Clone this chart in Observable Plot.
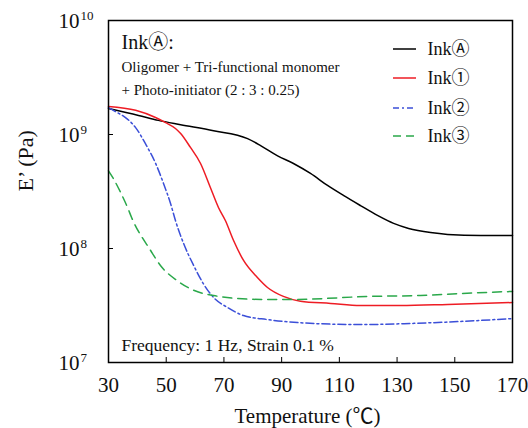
<!DOCTYPE html>
<html>
<head>
<meta charset="utf-8">
<script src="https://cdn.jsdelivr.net/npm/d3@7"></script>
<script src="https://cdn.jsdelivr.net/npm/@observablehq/plot@0.6"></script>
<style>
  html, body { margin: 0; padding: 0; background: #fff; }
  #chart svg { font-family: "Liberation Serif", "Noto Sans CJK JP", serif; }
</style>
</head>
<body>
<div id="chart"></div>
<script>
// ---- data ----
const seriesNames = ["InkⒶ", "Ink①", "Ink②", "Ink③"];
const seriesColors = ["#000000", "#ee1c24", "#3b4fd8", "#2aa84a"];
const seriesDash = [null, null, "8,3,2,3", "9,6"];

const inkA_T = [30, 40.4, 47.3, 55, 66.4, 78.2, 82.7, 88.6, 94.1, 100, 105.9, 111.4, 117.3, 123.2, 128.8, 134, 141.6, 147.5, 159, 170];
const inkA_E = [1.69e9, 1.47e9, 1.33e9, 1.22e9, 1.08e9, 9.2e8, 8.0e8, 6.5e8, 5.57e8, 4.55e8, 3.57e8, 2.92e8, 2.38e8, 1.95e8, 1.66e8, 1.5e8, 1.38e8, 1.33e8, 1.30e8, 1.30e8];

const ink1_T = [30, 39.4, 46.3, 49.8, 53.2, 55, 58.4, 61.9, 65.3, 68.1, 70.5, 73.3, 76.8, 81.6, 85.1, 90.6, 96.5, 107, 117.3, 131.2, 147.5, 170];
const ink1_E = [1.76e9, 1.63e9, 1.41e9, 1.27e9, 1.13e9, 1.02e9, 7.7e8, 5.57e8, 3.43e8, 2.29e8, 1.76e8, 1.18e8, 7.85e7, 5.57e7, 4.55e7, 3.8e7, 3.45e7, 3.3e7, 3.16e7, 3.16e7, 3.23e7, 3.36e7];

const ink2_T = [30, 32.4, 36, 39.4, 42.8, 46.3, 49.1, 51.5, 53.2, 56, 59.5, 62.9, 66.4, 71.2, 76.8, 85.1, 95.5, 117.3, 134.7, 152, 170];
const ink2_E = [1.72e9, 1.59e9, 1.4e9, 1.15e9, 8.3e8, 5.6e8, 3.7e8, 2.48e8, 1.76e8, 1.11e8, 7.1e7, 4.9e7, 3.72e7, 3.04e7, 2.58e7, 2.38e7, 2.24e7, 2.15e7, 2.2e7, 2.29e7, 2.43e7];

const ink3_T = [30, 31.7, 34.2, 36.6, 38, 44.6, 48, 53.9, 59.5, 66.4, 74.7, 83.7, 93.1, 120.8, 138.1, 152, 170];
const ink3_E = [4.8e8, 4.1e8, 3.1e8, 2.29e8, 1.87e8, 9.6e7, 7.1e7, 5.2e7, 4.3e7, 3.87e7, 3.64e7, 3.57e7, 3.57e7, 3.8e7, 3.87e7, 4.03e7, 4.2e7];

const xTicks = [30, 50, 70, 90, 110, 130, 150, 170];
const yTicks = [1e7, 1e8, 1e9, 1e10];
const yExponents = ["7", "8", "9", "10"];

const xLabel = "Temperature (℃)";
const yLabel = "E’ (Pa)";
const noteTitle = "InkⒶ:";
const noteLine1 = "Oligomer + Tri-functional monomer";
const noteLine2 = "+ Photo-initiator (2 : 3 : 0.25)";
const noteBottom = "Frequency: 1 Hz, Strain 0.1 %";

// build tables
const allT = [inkA_T, ink1_T, ink2_T, ink3_T];
const allE = [inkA_E, ink1_E, ink2_E, ink3_E];
const tables = allT.map((ts, i) => ts.map((t, j) => ({T: t, E: allE[i][j], s: seriesNames[i]})));

const W = 528, H = 428;
const mL = 108, mR = 16, mT = 20, mB = 66;
const plotW = W - mL - mR, plotH = H - mT - mB;
const legendRowsY = [49, 78, 108, 136];

const lineMarks = tables.map((tb, i) => Plot.line(tb, {
  x: "T", y: "E", stroke: seriesColors[i], strokeWidth: 1.5, curve: "monotone-x",
  strokeDasharray: seriesDash[i] || undefined
}));

const legendTextMarks = seriesNames.map((n, i) => Plot.text([n], {
  text: d => d, frameAnchor: "top-left", dx: 427 - mL, dy: legendRowsY[i] - mT,
  textAnchor: "start", lineAnchor: "middle", fontSize: 18, fill: "#111"
}));

const chart = Plot.plot({
  width: W, height: H,
  marginLeft: mL, marginRight: mR, marginTop: mT, marginBottom: mB,
  style: {background: "#fff", fontFamily: "'Liberation Serif', 'Noto Sans CJK JP', serif", color: "#111"},
  x: {domain: [30, 170], axis: null},
  y: {type: "log", domain: [1e7, 1e10], axis: null},
  marks: [
    ...lineMarks,
    // inward ticks
    Plot.tickY(yTicks.slice(1, 3), {y: d => d, stroke: "#000", strokeWidth: 1, insetRight: plotW - 5}),
    Plot.tickX(xTicks.slice(1, -1), {x: d => d, stroke: "#000", strokeWidth: 1, insetTop: plotH - 5}),
    Plot.frame({stroke: "#000", strokeWidth: 1.5}),
    // y tick labels: 10^n
    Plot.text(yTicks, {y: d => d, text: () => "10", frameAnchor: "left", dx: -50, dy: 1, textAnchor: "start", lineAnchor: "middle", fontSize: 21, fill: "#111"}),
    Plot.text(yTicks, {y: d => d, text: (d, i) => yExponents[i], frameAnchor: "left", dx: -28, dy: -5, textAnchor: "start", lineAnchor: "middle", fontSize: 13, fill: "#111"}),
    // x tick labels
    Plot.text(xTicks, {x: d => d, text: d => String(d), frameAnchor: "bottom", dy: 23, lineAnchor: "middle", fontSize: 21, fill: "#111"}),
    // axis titles
    Plot.text([xLabel], {text: d => d, frameAnchor: "bottom", dy: 54, dx: -3, lineAnchor: "middle", fontSize: 21, fill: "#111"}),
    Plot.text([yLabel], {text: d => d, frameAnchor: "left", dx: -83, rotate: -90, lineAnchor: "middle", fontSize: 22, fill: "#111"}),
    // annotations
    Plot.text([noteTitle], {text: d => d, frameAnchor: "top-left", dx: 13, dy: 22, textAnchor: "start", lineAnchor: "middle", fontSize: 20, fill: "#111"}),
    Plot.text([noteLine1], {text: d => d, frameAnchor: "top-left", dx: 13, dy: 47, textAnchor: "start", lineAnchor: "middle", fontSize: 15, fill: "#111"}),
    Plot.text([noteLine2], {text: d => d, frameAnchor: "top-left", dx: 13, dy: 70, textAnchor: "start", lineAnchor: "middle", fontSize: 15, fill: "#111"}),
    Plot.text([noteBottom], {text: d => d, frameAnchor: "bottom-left", dx: 13, dy: -17, textAnchor: "start", lineAnchor: "middle", fontSize: 17.5, fill: "#111"}),
    ...legendTextMarks
  ]
});

document.getElementById("chart").appendChild(chart);

// legend swatches
const svg = d3.select(chart.tagName.toLowerCase() === "svg" ? chart : chart.querySelector("svg"));
const g = svg.append("g");
seriesNames.forEach((n, i) => {
  g.append("line")
    .attr("x1", 393).attr("x2", 416)
    .attr("y1", legendRowsY[i]).attr("y2", legendRowsY[i])
    .attr("stroke", seriesColors[i]).attr("stroke-width", 1.5)
    .attr("stroke-dasharray", seriesDash[i] ? (i === 2 ? "6,3,2,3" : "8,5") : null);
});
</script>
</body>
</html>
